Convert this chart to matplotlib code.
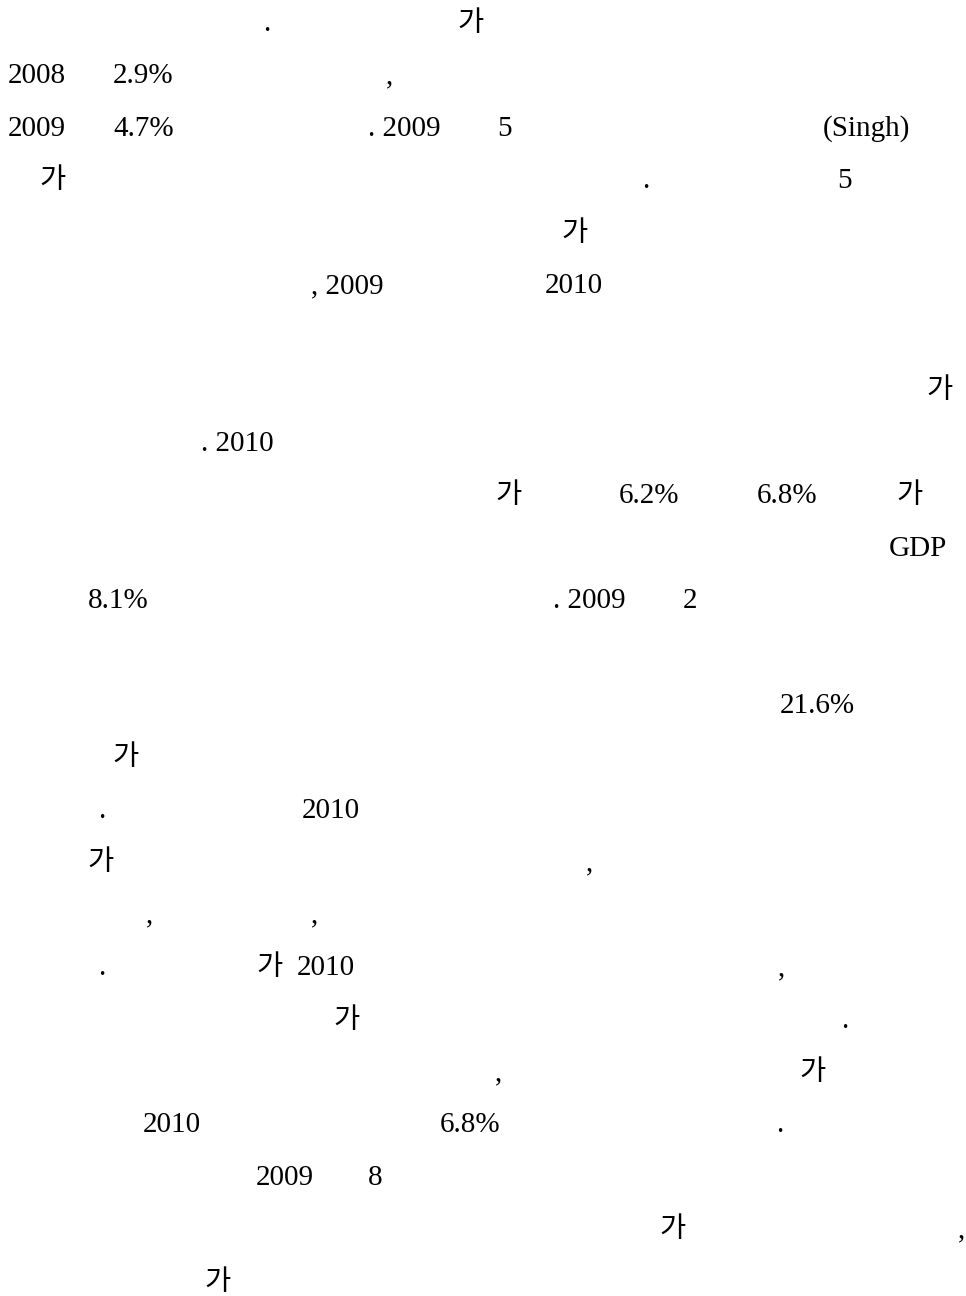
import matplotlib
matplotlib.use('Agg')
import matplotlib.pyplot as plt

# 페이지 텍스트 조각 (줄 번호, x 위치 px, 문자열)
line_no = [0, 0,
           1, 1, 1,
           2, 2, 2, 2, 2,
           3, 3, 3,
           4,
           5, 5,
           7,
           8,
           9, 9, 9, 9,
           10,
           11, 11, 11,
           13,
           14,
           15, 15,
           16, 16,
           17, 17,
           18, 18, 18, 18,
           19, 19,
           20, 20,
           21, 21, 21,
           22, 22,
           23, 23,
           24]
x_pos = [263, 457,
         8, 113, 386,
         8, 113, 368, 497, 823,
         39, 642, 837,
         561,
         311, 545,
         926,
         201,
         495, 619, 757, 896,
         889,
         88, 553, 683,
         780,
         112,
         98, 302,
         87, 586,
         146, 311,
         98, 256, 297, 778,
         333, 841,
         495, 799,
         143, 440, 776,
         256, 368,
         659, 958,
         204]
frags = ['.', '가',
         '2008', '2.9%', ',',
         '2009', '4.7%', '. 2009', '5', '(Singh)',
         '가', '.', '5',
         '가',
         ', 2009', '2010',
         '가',
         '. 2010',
         '가', '6.2%', '6.8%', '가',
         'GDP',
         '8.1%', '. 2009', '2',
         '21.6%',
         '가',
         '.', '2010',
         '가', ',',
         ',', ',',
         '.', '가', '2010', ',',
         '가', '.',
         ',', '가',
         '2010', '6.8%', '.',
         '2009', '8',
         '가', ',',
         '가']

W, H = 966, 1296
fig = plt.figure(figsize=(W / 100, H / 100), dpi=100)
fig.patch.set_facecolor('white')

base0 = 31
pitch = 52.45

for n, x, s in zip(line_no, x_pos, frags):
    y = base0 + n * pitch
    if s == '가':
        fig.text(x / W, 1 - y / H, s, family=['Noto Sans CJK KR'],
                 fontsize=20.5, ha='left', va='baseline', color='black')
    else:
        fig.text(x / W, 1 - y / H, s, family=['Liberation Serif'],
                 fontsize=21, ha='left', va='baseline', color='black')

fig.savefig('out.png', dpi=100, facecolor='white')
